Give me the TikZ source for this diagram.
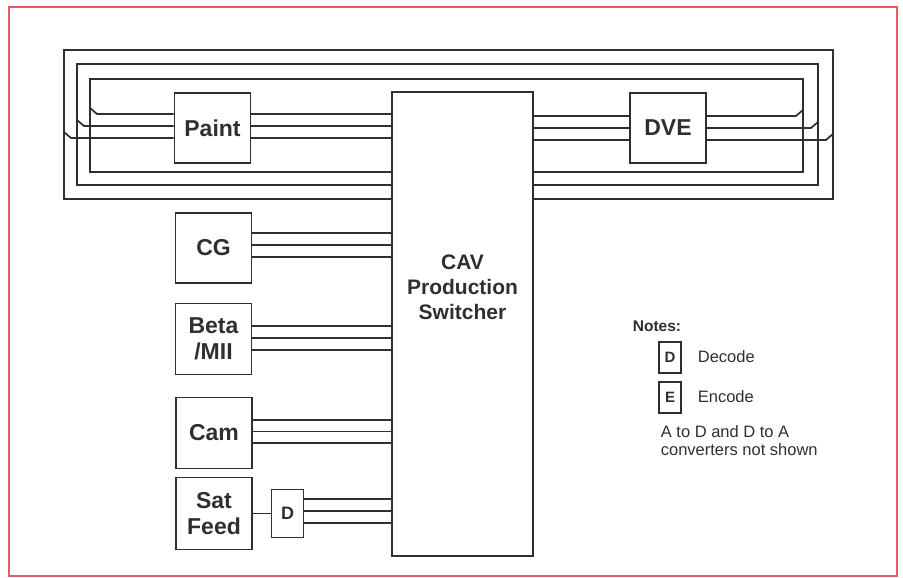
\documentclass[tikz,border=0pt]{standalone}
\usepackage{fontspec}
\setmainfont{Liberation Sans}
\usetikzlibrary{calc}
\definecolor{cavGray}{RGB}{45,48,48}
\definecolor{cavRed}{RGB}{232,92,104}

\begin{document}
\begin{tikzpicture}[x=1pt, y=-1pt, line width=1.7pt, cavGray,
    every node/.style={font=\fontsize{23}{26}\selectfont\bfseries, text=cavGray},
    unit/.style={draw, minimum width=76pt, minimum height=71pt, inner sep=0pt, align=center},
    keybox/.style={draw, line width=1.4pt, minimum width=22pt, minimum height=31pt, inner sep=0pt, font=\fontsize{15}{17}\selectfont\bfseries},
    notetext/.style={anchor=base west, inner sep=0pt, font=\fontsize{16.5}{17.5}\selectfont}]
\useasboundingbox (0,0) rectangle (903,578);
\draw[cavRed, line width=1.5pt] (9,7) rectangle (897,576);

\node[draw, minimum width=141pt, minimum height=464pt, inner sep=0pt] (sw) at (462.5,324) {};
\node[font=\fontsize{21}{25}\selectfont\bfseries, align=center] (swtext) at (462.5,287) {CAV\\Production\\Switcher};

\node[unit, minimum height=70pt] (paint) at (212.5,128) {Paint};
\node[unit, minimum height=70pt] (dve) at (668,128) {DVE};
\node[unit, minimum height=70pt] (cg) at (213.5,248) {CG};
\node[unit] (beta) at (213.5,339) {Beta\\/MII};
\node[unit] (cam) at (214,433) {Cam};
\node[unit, minimum height=72pt] (sat) at (214,513.5) {Sat\\Feed};
\node[draw, minimum width=32pt, minimum height=48pt, inner sep=0pt, font=\fontsize{18}{20}\selectfont\bfseries] (dec) at (287.5,513.5) {D};

\node[notetext, font=\fontsize{15.5}{18}\selectfont\bfseries] (notes) at (632,331) {Notes:};
\node[keybox] (keyd) at (670,357.5) {D};
\node[keybox] (keye) at (670,397.5) {E};
\node[notetext] (decode) at (697,362) {Decode};
\node[notetext] (encode) at (697,402) {Encode};
\node[notetext, align=left] (remark) at (660,455) {A to D and D to A\\converters not shown};

\foreach \lx/\ty/\by/\rx in {64/50/199/833, 77/64/185/818, 90/79/172/803}
    \draw (sw.west |- 0,\by) -- (\lx,\by) -- (\lx,\ty) -- (\rx,\ty) -- (\rx,\by) -- (sw.east |- 0,\by);

\foreach \y/\lx in {114/90, 126/77, 138/64} {
    \draw (paint.east |- 0,\y) -- (sw.west |- 0,\y);
    \draw (paint.west |- 0,\y) -- ({\lx+7},\y) -- (\lx,{\y-6});
}
\foreach \y/\rx in {116/803, 128/818, 140/833} {
    \draw (sw.east |- 0,\y) -- (dve.west |- 0,\y);
    \draw (dve.east |- 0,\y) -- ({\rx-7},\y) -- (\rx,{\y-6});
}

\foreach \y in {233,245,257} \draw (cg.east |- 0,\y) -- (sw.west |- 0,\y);
\foreach \y in {326,338,350} \draw (beta.east |- 0,\y) -- (sw.west |- 0,\y);
\foreach \y in {420,431.5,443} \draw (cam.east |- 0,\y) -- (sw.west |- 0,\y);
\foreach \y in {499,511,523} \draw (dec.east |- 0,\y) -- (sw.west |- 0,\y);
\draw (sat) -- (dec);
\end{tikzpicture}
\end{document}
